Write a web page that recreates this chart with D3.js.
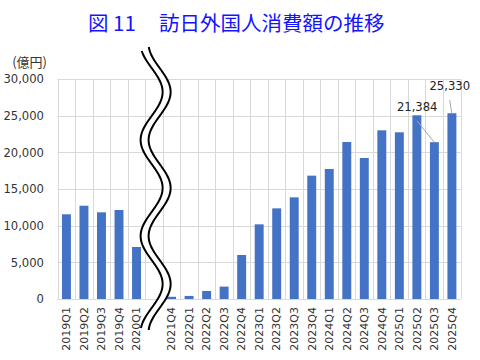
<html>
  <head>
    <meta charset="utf-8">
    <title>図11 訪日外国人消費額の推移</title>
    <script type="text/javascript" src="https://cdn.jsdelivr.net/npm/d3@7"></script>
    <style>
      body { margin: 0; background: #fff; }
    </style>
    <script type="text/javascript">
      // quarters; "" is the empty slot where the axis is broken
      var categories = ["2019Q1", "2019Q2", "2019Q3", "2019Q4", "2020Q1", "",
        "2021Q4", "2022Q1", "2022Q2", "2022Q3", "2022Q4",
        "2023Q1", "2023Q2", "2023Q3", "2023Q4",
        "2024Q1", "2024Q2", "2024Q3", "2024Q4",
        "2025Q1", "2025Q2", "2025Q3", "2025Q4"];
      // 億円
      var values = [11550, 12720, 11820, 12140, 7090, null,
        300, 420, 1090, 1690, 6000,
        10180, 12360, 13860, 16820,
        17730, 21410, 19230, 23000,
        22730, 25050, 21384, 25330];
      var yTicks = [0, 5000, 10000, 15000, 20000, 25000, 30000];
      var labelled = ["2025Q3", "2025Q4"];

      function ready(fn) {
        if (document.readyState != 'loading'){ fn() }
        else { document.addEventListener('DOMContentLoaded', fn) }
      }
      ready(function() {
        drawChart();
      });

      function drawChart() {
        var svg = d3.select("#chart"),
            fmt = d3.format(",");

        var x = d3.scaleBand().domain(categories).range([57.5, 460.5]).padding(0);
        var y = d3.scaleLinear().domain([0, 30000]).range([299, 79]);
        var bw = x.bandwidth();

        // title
        svg.append("text")
          .attr("x", 88).attr("y", 31)
          .attr("fill", "#1414ff")
          .style("font-family", "'Noto Sans CJK JP'")
          .style("font-size", "20.5px")
          .text("図 11");
        svg.append("text")
          .attr("x", 159).attr("y", 31)
          .attr("fill", "#1414ff")
          .style("font-family", "'Noto Sans CJK JP'")
          .style("font-size", "20.5px")
          .text("訪日外国人消費額の推移");

        svg.append("text")
          .attr("x", 47).attr("y", 67)
          .attr("text-anchor", "end")
          .attr("fill", "#333")
          .style("font-family", "'Noto Sans CJK JP'")
          .style("font-size", "13px")
          .text("(億円)");

        // grid
        var grid = svg.append("g").attr("stroke", "#d9d9d9").attr("stroke-width", 1);
        grid.selectAll("line.h")
          .data(yTicks)
          .enter().append("line")
            .attr("x1", x.range()[0]).attr("x2", x.range()[1])
            .attr("y1", function(d) { return Math.round(y(d)) + 0.5; })
            .attr("y2", function(d) { return Math.round(y(d)) + 0.5; });
        grid.selectAll("line.v")
          .data(categories.concat(["end"]))
          .enter().append("line")
            .attr("x1", function(d, i) { return Math.round(x.range()[0] + i * bw) + 0.5; })
            .attr("x2", function(d, i) { return Math.round(x.range()[0] + i * bw) + 0.5; })
            .attr("y1", y(30000)).attr("y2", y(0));

        // y axis labels
        svg.append("g")
          .selectAll("text")
          .data(yTicks)
          .enter().append("text")
            .attr("x", 44)
            .attr("y", function(d) { return y(d); })
            .attr("dy", "0.36em")
            .attr("text-anchor", "end")
            .attr("fill", "#333")
            .style("font-family", "'DejaVu Sans'")
            .style("font-size", "11.6px")
            .text(function(d) { return fmt(d); });

        // bars
        var data = categories.map(function(c, i) { return { cat: c, v: values[i] }; })
          .filter(function(d) { return d.v != null; });
        svg.append("g")
          .selectAll("rect")
          .data(data)
          .enter().append("rect")
            .attr("x", function(d) { return x(d.cat) + bw * 0.255; })
            .attr("width", bw * 0.51)
            .attr("y", function(d) { return y(d.v); })
            .attr("height", function(d) { return y(0) - y(d.v); })
            .attr("fill", "#4472c4");

        // x labels
        svg.append("g")
          .selectAll("text")
          .data(categories)
          .enter().append("text")
            .attr("transform", function(d) {
              return "translate(" + (x(d) + bw / 2) + ",307) rotate(-90)";
            })
            .attr("dy", "0.36em")
            .attr("text-anchor", "end")
            .attr("fill", "#333")
            .style("font-family", "'DejaVu Sans'")
            .style("font-size", "11px")
            .text(function(d) { return d; });

        // data labels with leader lines
        var offs = { "2025Q3": [-17, -31, -21], "2025Q4": [-2, -23, -13] };
        var lab = svg.append("g");
        data.filter(function(d) { return labelled.indexOf(d.cat) >= 0; })
          .forEach(function(d) {
            var cx = x(d.cat) + bw / 2, o = offs[d.cat];
            lab.append("line")
              .attr("x1", cx + o[0]).attr("y1", y(d.v) + o[2])
              .attr("x2", cx).attr("y2", y(d.v))
              .attr("stroke", "#a6a6a6").attr("stroke-width", 1);
            lab.append("text")
              .attr("x", cx + o[0]).attr("y", y(d.v) + o[1])
              .attr("text-anchor", "middle")
              .attr("fill", "#222")
              .style("font-family", "'DejaVu Sans'")
              .style("font-size", "11.6px")
              .text(fmt(d.v));
          });

        // wavy break mark over the empty slot
        var c0 = x("") + bw * 0.6, amp = 11, half = 48, y0 = y(30000) - 35;
        function waveX(c, yy) { return c - amp * Math.cos(Math.PI * (yy - y0) / half); }
        var leftPts = d3.range(y0 + 7, y(0) + 29.5, 1).map(function(yy) { return [waveX(c0 - 4, yy), yy]; });
        var rightPts = d3.range(y0 + 3, y(0) + 31.5, 1).map(function(yy) { return [waveX(c0 + 4, yy), yy]; });
        var line = d3.line().curve(d3.curveBasis);
        var brk = svg.append("g");
        brk.append("path")
          .attr("d", line(leftPts.concat(rightPts.slice().reverse())) + "Z")
          .attr("fill", "#fff");
        brk.selectAll("path.edge")
          .data([leftPts, rightPts])
          .enter().append("path")
            .attr("d", function(d) { return line(d); })
            .attr("fill", "none")
            .attr("stroke", "#000")
            .attr("stroke-width", 2);
      }
    </script>
  </head>
  <body>
    <svg width="480" height="360" id="chart"></svg>
  </body>
</html>
